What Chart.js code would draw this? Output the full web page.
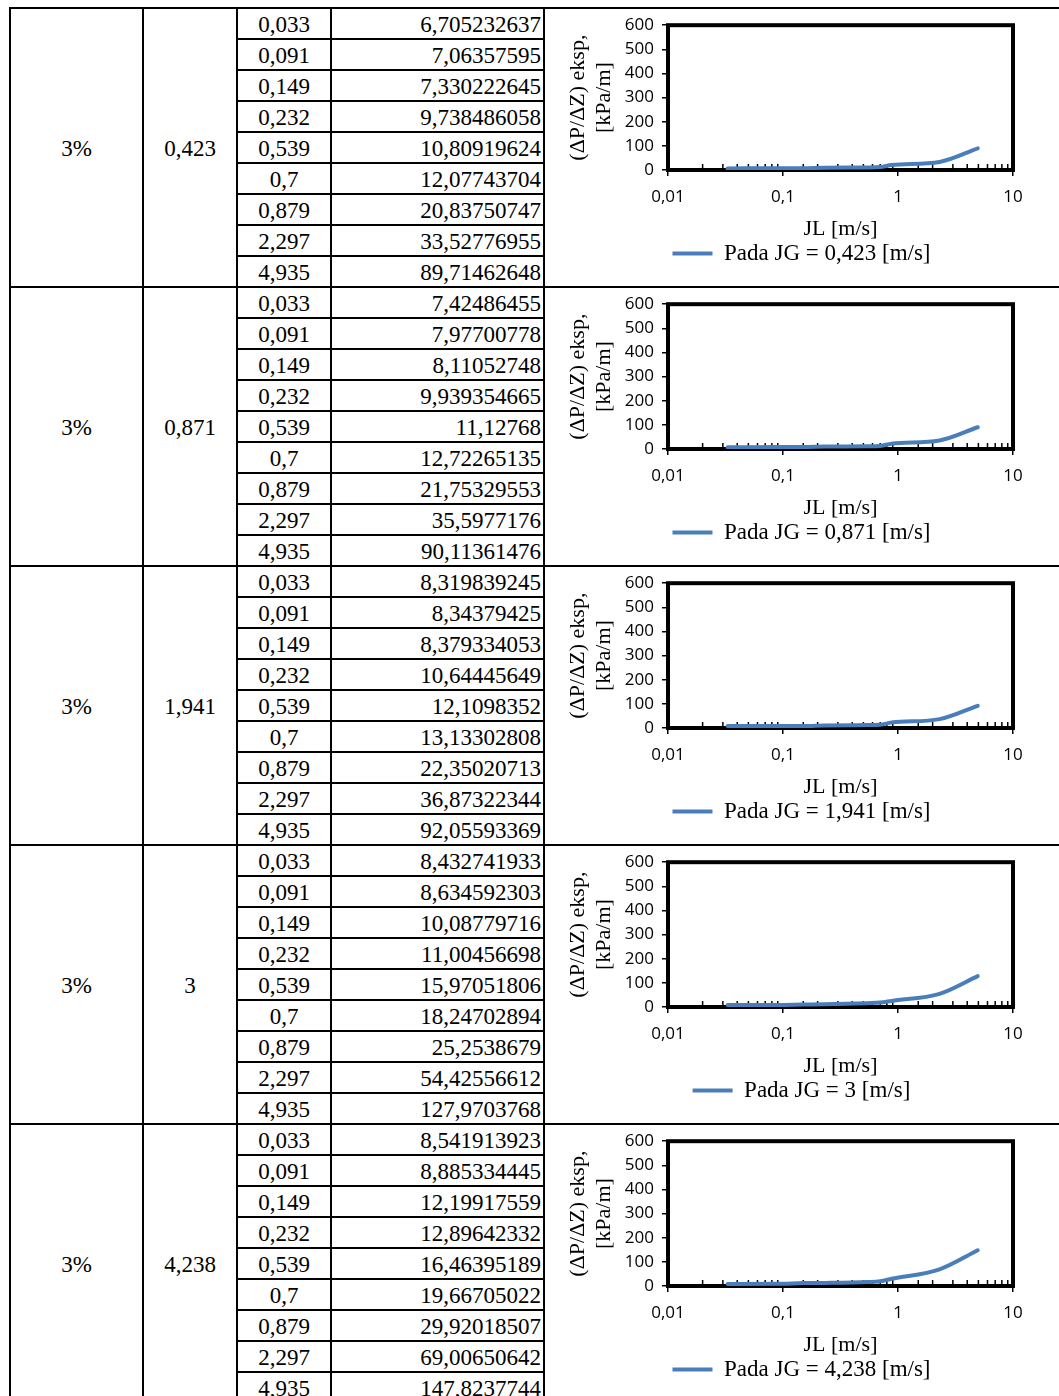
<!DOCTYPE html>
<html>
<head>
<meta charset="utf-8">
<script src="https://cdn.jsdelivr.net/npm/chart.js@4.4.1/dist/chart.umd.min.js"></script>
<style>
  html, body { margin: 0; padding: 0; background: #fff; width: 1059px; height: 1396px; overflow: hidden; position: relative; }
  table { position: absolute; left: 9px; top: 7px; width: 1134px; border-collapse: collapse; table-layout: fixed;
          font-family: 'Liberation Serif', 'Times New Roman', serif; font-size: 23px; color: #000; }
  td { border: 2px solid #000; padding: 2px 0 0 0; text-align: center; vertical-align: middle; line-height: 1; white-space: nowrap; }
  tr { height: 31px; }
  td.val { text-align: right; padding-right: 2px; }
  .chartBox { position: absolute; left: 544px; width: 515px; height: 279px; }
</style>
</head>
<body>
<table id="tbl"></table>
<div id="charts"></div>

<script>
const concentrations = ['3%', '3%', '3%', '3%', '3%'];
const jgValues = [0.423, 0.871, 1.941, 3, 4.238];
const jlValues = [0.033, 0.091, 0.149, 0.232, 0.539, 0.7, 0.879, 2.297, 4.935];

const dpJg0423 = [6.705232637, 7.06357595, 7.330222645, 9.738486058, 10.80919624, 12.07743704, 20.83750747, 33.52776955, 89.71462648];
const dpJg0871 = [7.42486455, 7.97700778, 8.11052748, 9.939354665, 11.12768, 12.72265135, 21.75329553, 35.5977176, 90.11361476];
const dpJg1941 = [8.319839245, 8.34379425, 8.379334053, 10.64445649, 12.1098352, 13.13302808, 22.35020713, 36.87322344, 92.05593369];
const dpJg3000 = [8.432741933, 8.634592303, 10.08779716, 11.00456698, 15.97051806, 18.24702894, 25.2538679, 54.42556612, 127.9703768];
const dpJg4238 = [8.541913923, 8.885334445, 12.19917559, 12.89642332, 16.46395189, 19.66705022, 29.92018507, 69.00650642, 147.8237744];
const seriesList = [dpJg0423, dpJg0871, dpJg1941, dpJg3000, dpJg4238];

const xMin = 0.01, xMax = 10;
const yMin = 0, yMax = 600, yStep = 100;
const yTitle = ['(ΔP/ΔZ) eksp,', '[kPa/m]'];
const xTitle = 'JL [m/s]';

const serif = "'Liberation Serif', 'Times New Roman', serif";
const sans = "'Open Sans', 'Noto Sans', sans-serif";
const lineColor = '#4a7ebb';

// angka pakai koma desimal
function fmt(v) {
  return String(v).replace('.', ',');
}

function isDecade(v) {
  const l = Math.log10(v);
  return Math.abs(l - Math.round(l)) < 1e-6;
}

// Tabel
function buildTable() {
  let html = '<colgroup><col style="width:133px"><col style="width:94px"><col style="width:94px"><col style="width:213px"><col style="width:600px"></colgroup>';
  jgValues.forEach((jg, g) => {
    jlValues.forEach((jl, i) => {
      html += '<tr>';
      if (i === 0) {
        html += `<td rowspan="9">${concentrations[g]}</td><td rowspan="9">${fmt(jg)}</td>`;
      }
      html += `<td>${fmt(jl)}</td><td class="val">${fmt(seriesList[g][i])}</td>`;
      if (i === 0) html += '<td rowspan="9"></td>';
      html += '</tr>';
    });
  });
  document.getElementById('tbl').innerHTML = html;
}

// bingkai plot + tick minor ke dalam
const framePlugin = {
  id: 'frame',
  beforeDatasetsDraw(chart) {
    const { ctx, chartArea: a, scales: { x } } = chart;
    ctx.save();
    ctx.strokeStyle = '#000';
    ctx.lineWidth = 1.5;
    x.ticks.forEach(t => {
      if (isDecade(t.value)) return;
      const px = x.getPixelForValue(t.value);
      ctx.beginPath();
      ctx.moveTo(px, a.bottom);
      ctx.lineTo(px, a.bottom - 6);
      ctx.stroke();
    });
    ctx.lineWidth = 4;
    ctx.strokeRect(a.left, a.top, a.right - a.left, a.bottom - a.top);
    ctx.restore();
  }
};

function makeChart(g) {
  const box = document.createElement('div');
  box.className = 'chartBox';
  box.style.top = Math.round(7 + g * 279) + 'px';
  const canvas = document.createElement('canvas');
  canvas.width = 515;
  canvas.height = 279;
  box.appendChild(canvas);
  document.getElementById('charts').appendChild(box);

  new Chart(canvas, {
    type: 'line',
    data: {
      datasets: [{
        label: `Pada JG = ${fmt(jgValues[g])} [m/s]`,
        data: jlValues.map((jl, i) => ({ x: jl, y: seriesList[g][i] })),
        borderColor: lineColor,
        backgroundColor: lineColor,
        borderWidth: 4,
        pointRadius: 0,
        cubicInterpolationMode: 'monotone',
        borderCapStyle: 'round',
        fill: false
      }]
    },
    options: {
      responsive: false,
      animation: false,
      devicePixelRatio: 1,
      layout: { padding: { top: 18, bottom: 11, left: 0, right: 0 } },
      scales: {
        x: {
          type: 'logarithmic',
          min: xMin,
          max: xMax,
          afterFit: s => { s.height = 72; },
          border: { display: false },
          grid: {
            drawOnChartArea: false,
            tickLength: 6,
            lineWidth: 1.5,
            color: c => (c.tick && isDecade(c.tick.value)) ? '#000' : 'rgba(0,0,0,0)'
          },
          ticks: {
            autoSkip: false,
            maxRotation: 0,
            padding: 11,
            color: '#000',
            font: { family: sans, size: 17 },
            callback: v => isDecade(v) ? fmt(v) : ''
          },
          title: {
            display: true,
            text: xTitle,
            color: '#000',
            font: { family: serif, size: 22, lineHeight: 1.2 },
            padding: { top: 0, bottom: 0 }
          }
        },
        y: {
          min: yMin,
          max: yMax,
          afterFit: s => { s.width = 124; },
          border: { display: false },
          grid: { drawOnChartArea: false, tickLength: 6, lineWidth: 1.5, color: '#000' },
          ticks: {
            stepSize: yStep,
            padding: 8,
            color: '#000',
            font: { family: sans, size: 17 }
          },
          title: {
            display: true,
            text: yTitle,
            color: '#000',
            font: { family: serif, size: 22, lineHeight: 1.2 },
            padding: { top: 21, bottom: 0 }
          }
        },
        // sumbu kosong di kanan supaya legenda tetap di tengah kanvas
        yRight: {
          position: 'right',
          display: true,
          afterFit: s => { s.width = 46; },
          border: { display: false },
          grid: { display: false },
          ticks: { display: false }
        }
      },
      plugins: {
        legend: {
          position: 'bottom',
          labels: {
            boxWidth: 40,
            boxHeight: 4,
            padding: 0,
            color: '#000',
            font: { family: serif, size: 23 },
            generateLabels: chart => Chart.defaults.plugins.legend.labels.generateLabels(chart)
              .map(l => ({ ...l, lineWidth: 0 }))
          }
        },
        tooltip: { enabled: false }
      }
    },
    plugins: [framePlugin]
  });
}

buildTable();
jgValues.forEach((jg, g) => makeChart(g));
</script>
</body>
</html>
